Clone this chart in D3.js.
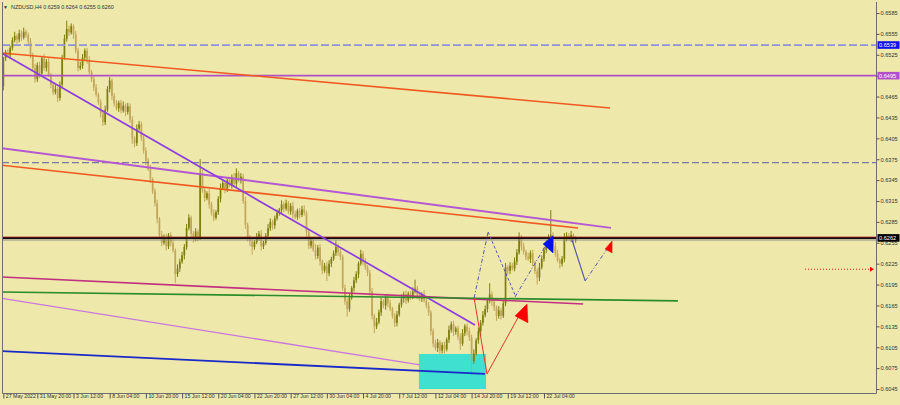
<!DOCTYPE html>
<html><head><meta charset="utf-8">
<script src="https://cdn.jsdelivr.net/npm/d3@7"></script>
<style>html,body{margin:0;padding:0;background:#eee8aa;}svg{display:block;}</style>
</head><body>
<svg id="c" width="900" height="405"></svg>
<script>
// ---------- DATA ----------
const symbolTitle = "NZDUSD,H4";
const lastOHLC = [0.6259, 0.6264, 0.6255, 0.6260];
const firstOpen = 0.6480;
const closes = [
0.6520,0.6528,0.6524,0.6535,0.6546,0.6552,0.6547,0.6556,0.6550,0.6558,
0.6553,0.6544,0.6525,0.6506,0.6490,0.6510,0.6498,0.6520,0.6506,0.6515,
0.6496,0.6482,0.6471,0.6476,0.6463,0.6482,0.6521,0.6548,0.6562,0.6557,
0.6566,0.6554,0.6531,0.6506,0.6509,0.6521,0.6531,0.6518,0.6500,0.6490,
0.6478,0.6468,0.6457,0.6441,0.6428,0.6446,0.6476,0.6488,0.6466,0.6455,
0.6448,0.6456,0.6445,0.6452,0.6443,0.6451,0.6432,0.6405,0.6398,0.6419,
0.6425,0.6406,0.6387,0.6373,0.6361,0.6346,0.6329,0.6312,0.6289,0.6266,
0.6255,0.6263,0.6250,0.6266,0.6255,0.6244,0.6210,0.6218,0.6228,0.6237,
0.6249,0.6276,0.6291,0.6268,0.6261,0.6271,0.6262,0.6355,0.6331,0.6319,
0.6326,0.6310,0.6298,0.6291,0.6299,0.6318,0.6334,0.6341,0.6332,0.6345,
0.6338,0.6349,0.6340,0.6355,0.6345,0.6350,0.6315,0.6281,0.6262,0.6257,
0.6249,0.6256,0.6263,0.6268,0.6250,0.6255,0.6265,0.6276,0.6285,0.6280,
0.6290,0.6298,0.6302,0.6310,0.6304,0.6312,0.6300,0.6308,0.6296,0.6292,
0.6301,0.6295,0.6303,0.6298,0.6270,0.6251,0.6258,0.6245,0.6236,0.6248,
0.6228,0.6215,0.6222,0.6211,0.6225,0.6232,0.6240,0.6249,0.6242,0.6235,
0.6190,0.6171,0.6160,0.6176,0.6190,0.6201,0.6210,0.6225,0.6239,0.6228,
0.6220,0.6212,0.6185,0.6150,0.6135,0.6141,0.6155,0.6171,0.6165,0.6176,
0.6168,0.6160,0.6150,0.6140,0.6152,0.6166,0.6175,0.6181,0.6172,0.6182,
0.6178,0.6185,0.6189,0.6180,0.6175,0.6181,0.6172,0.6165,0.6155,0.6128,
0.6110,0.6104,0.6112,0.6100,0.6108,0.6102,0.6116,0.6130,0.6138,0.6127,
0.6132,0.6120,0.6110,0.6125,0.6135,0.6128,0.6119,0.6085,0.6096,0.6115,
0.6128,0.6140,0.6151,0.6160,0.6172,0.6181,0.6170,0.6162,0.6150,0.6158,
0.6150,0.6168,0.6220,0.6215,0.6222,0.6218,0.6228,0.6241,0.6262,0.6250,
0.6242,0.6235,0.6232,0.6240,0.6226,0.6214,0.6205,0.6220,0.6232,0.6245,
0.6255,0.6262,0.6266,0.6250,0.6240,0.6230,0.6225,0.6232,0.6260,0.6265,
0.6262,0.6266,0.6259,0.6260];
// wick lengths in pips above max(open,close) and below min(open,close)
const wickHi = [
2,4,5,3,4,6,3,5,4,6,3,4,5,3,6,4,5,3,6,4,
5,3,4,6,3,5,4,6,12,5,4,3,5,4,6,5,3,4,5,3,
4,5,3,4,5,6,4,5,3,4,5,3,4,6,3,5,4,5,3,6,
5,4,3,5,4,6,3,4,5,3,6,4,5,3,4,5,3,6,4,5,
4,6,5,3,4,5,3,20,5,4,3,6,4,5,3,4,6,5,3,4,
5,4,6,7,3,5,4,6,3,4,5,3,6,4,5,3,4,6,5,3,
4,5,3,6,4,5,3,4,6,5,3,4,5,6,3,4,5,3,8,4,
5,3,4,6,5,3,4,9,5,4,3,5,4,6,3,5,4,3,6,4,
5,3,4,5,3,6,4,5,3,4,6,5,3,4,5,3,6,4,5,3,
4,6,13,4,5,3,6,4,5,3,4,6,5,3,4,5,3,6,4,5,
3,4,5,6,3,4,5,4,6,3,5,4,6,5,3,16,4,5,3,6,
4,5,6,3,5,4,6,5,8,4,5,3,6,4,5,3,4,6,5,3,
4,5,36,4,6,5,3,4,9,5,4,6,3,4];
const wickLo = [
6,4,3,5,4,3,6,4,5,3,4,6,5,3,5,4,6,3,4,5,
3,5,4,3,6,4,5,3,4,5,3,6,4,5,3,4,5,6,3,4,
5,3,4,6,5,4,3,5,6,4,3,5,4,3,6,4,5,8,6,4,
3,5,4,6,3,5,4,5,6,4,5,3,6,4,5,3,13,4,5,3,
6,4,3,5,6,4,5,3,4,5,3,6,4,5,3,4,5,3,6,4,
3,5,4,6,3,5,4,6,5,7,11,4,3,5,6,4,3,5,4,6,
5,3,4,6,5,3,4,5,6,3,4,5,3,4,6,5,4,3,5,4,
6,5,3,11,4,5,3,4,6,5,4,5,11,4,3,5,4,6,3,5,
4,5,6,5,10,4,3,5,4,6,5,3,4,6,5,3,4,6,5,3,
5,4,3,6,4,5,3,4,5,6,5,4,6,5,4,6,3,5,4,6,
4,5,9,3,4,6,5,21,4,3,5,6,4,3,5,4,6,5,7,4,
5,3,4,6,5,3,4,5,3,6,4,5,3,6,5,4,10,5,3,4,
5,3,4,6,5,3,7,4,5,3,4,6,5,4];

const timeLabels = ["27 May 2022","31 May 20:00","3 Jun 12:00","8 Jun 04:00","10 Jun 20:00","15 Jun 12:00","20 Jun 04:00","22 Jun 20:00","27 Jun 12:00","30 Jun 04:00","4 Jul 20:00","7 Jul 12:00","12 Jul 04:00","14 Jul 20:00","19 Jul 12:00","22 Jul 04:00"];
const timeLabelBars = [0,15,31,47,63,79,95,111,127,143,159,175,191,207,223,239];
const priceTicks = [0.6585,0.6555,0.6525,0.6495,0.6465,0.6435,0.6405,0.6375,0.6345,0.6315,0.6285,0.6255,0.6225,0.6195,0.6165,0.6135,0.6105,0.6075,0.6045];

// horizontal levels
const levelDashedTop = 0.6539;
const levelViolet = 0.6495;
const levelDashedMid = 0.6370;
const levelBlack = 0.6262;
const bidPrice = 0.6259;
// trend lines: [[bar, price],[bar, price]]
const orangeUpper = [[-0.6,0.65276],[268.2,0.64486]];
const orangeLower = [[-1.5,0.63667],[254.0,0.62763]];
const purpleChannel = [[-1.5,0.63911],[268.6,0.62763]];
const violetTrend = [[-1.5,0.65290],[208.5,0.61370]];
const crimsonLine = [[-1.5,0.62059],[256.3,0.61671]];
const greenLine = [[-1.5,0.61844],[298.2,0.61715]];
const orchidLine = [[-1.5,0.61757],[184.2,0.60795]];
const blueLine = [[-1.5,0.60996],[212.9,0.60666]];
const cyanZone = [[183.7,0.60953],[213.4,0.60450]];
const redPath = [[208.1,0.61757],[213.8,0.60666],[228.4,0.61528]];
const redArrowBig = [[226.2,0.61500],[231.5,0.61670],[231.9,0.61400]];
const blueArrow = [[238.6,0.62533],[243.0,0.62648],[243.0,0.62404]];
const redArrowSmall = [[266.0,0.62461],[269.1,0.62576],[269.1,0.62404]];
const forecastA = [[208.1,0.61757],[214.3,0.62705]];
const forecastB = [[214.3,0.62705],[226.2,0.61801]];
const forecastC = [[226.2,0.61772],[242.5,0.62662]];
const forecastD = [[251.4,0.62590],[257.2,0.62002]];
const forecastE = [[257.2,0.62002],[266.9,0.62461]];
const redDotted = [[354.4,0.62170],[384.9,0.62170]];

// ---------- DRAW ----------
const svg = d3.select("#c");
const L = 2, R = 876, T = 2, B = 393;
const x = d3.scaleLinear().domain([0, 387]).range([3.37, 3.37 + 387*2.262]);
const y = d3.scaleLinear().domain([0.6045, 0.6585]).range([389, 13]);

svg.append("rect").attr("width",900).attr("height",405).attr("fill","#eee8aa");
svg.append("defs").append("clipPath").attr("id","plot")
  .append("rect").attr("x",L).attr("y",T).attr("width",R-L).attr("height",B-T);
const g = svg.append("g").attr("clip-path","url(#plot)");

// cyan zone (background object)
g.append("rect")
  .attr("x", x(cyanZone[0][0])).attr("y", y(cyanZone[0][1]))
  .attr("width", x(cyanZone[1][0]) - x(cyanZone[0][0]))
  .attr("height", y(cyanZone[1][1]) - y(cyanZone[0][1]))
  .attr("fill","#40e0d0");

// candles
const candles = closes.map((c,i) => {
  const o = i ? closes[i-1] : firstOpen;
  return {i, o, c, h: Math.max(o,c) + wickHi[i]/1e4, l: Math.min(o,c) - wickLo[i]/1e4};
});
const bull = "#7e7e0e", bear = "#c2a65c";
const cg = g.append("g");
cg.selectAll("line").data(candles).join("line")
  .attr("x1", d => x(d.i)).attr("x2", d => x(d.i))
  .attr("y1", d => y(d.h)).attr("y2", d => y(d.l))
  .attr("stroke", d => d.c >= d.o ? bull : bear).attr("stroke-width", 1);
cg.selectAll("rect").data(candles).join("rect")
  .attr("x", d => x(d.i) - 0.85).attr("width", 1.7)
  .attr("y", d => y(Math.max(d.o,d.c)))
  .attr("height", d => Math.max(1, Math.abs(y(d.o) - y(d.c))))
  .attr("fill", d => d.c >= d.o ? bull : bear);

// horizontal levels
function hline(p, color, w, dash) {
  g.append("line").attr("x1",L).attr("x2",R).attr("y1",y(p)).attr("y2",y(p))
    .attr("stroke",color).attr("stroke-width",w).attr("stroke-dasharray",dash||null);
}
hline(levelDashedTop, "#9090dc", 1.8, "8,3");
hline(levelViolet, "#b050c8", 1.6);
hline(levelDashedMid, "#5c5ca4", 1, "7,3");
hline(bidPrice, "#8a8a8a", 1);
hline(levelBlack, "#111", 2);
g.append("line").attr("x1",L).attr("x2",R).attr("y1",y(levelBlack)-0.8).attr("y2",y(levelBlack)-0.8)
  .attr("stroke","#a01010").attr("stroke-width",0.8);

// trend lines
const lineGen = d3.line().x(d => x(d[0])).y(d => y(d[1]));
function seg(pts, color, w, dash) {
  g.append("path").attr("d", lineGen(pts)).attr("fill","none")
    .attr("stroke", color).attr("stroke-width", w).attr("stroke-dasharray", dash||null);
}
seg(orangeUpper, "#f05a22", 1.6);
seg(orangeLower, "#f05a22", 1.6);
seg(purpleChannel, "#b458d4", 1.8);
seg(violetTrend, "#8c3ee0", 1.7);
seg(crimsonLine, "#c0307e", 1.6);
seg(orchidLine, "#c878dc", 1.3);
seg(greenLine, "#2a8c2a", 1.6);
seg(blueLine, "#1a2ac8", 1.8);
seg(redPath, "#e03a2a", 1);
seg(forecastA, "#5858a8", 1, "4,2,1,2");
seg(forecastB, "#5858a8", 1, "3,2");
seg(forecastC, "#5858a8", 1, "4,2,1,2");
seg(forecastD, "#5858a8", 1.2);
seg(forecastE, "#5858a8", 1, "4,2,1,2");
seg(redDotted, "#e02020", 1, "1,2");

function tri(pts, color) {
  g.append("path").attr("d", lineGen(pts) + "Z").attr("fill", color).attr("stroke", color).attr("stroke-width",0.5);
}
tri(redArrowBig, "#ff0000");
tri(blueArrow, "#0010e8");
tri(redArrowSmall, "#ff0000");
const rdEnd = redDotted[1];
g.append("path").attr("d", `M${x(rdEnd[0])-4},${y(rdEnd[1])-2.5}L${x(rdEnd[0])},${y(rdEnd[1])}L${x(rdEnd[0])-4},${y(rdEnd[1])+2.5}Z`).attr("fill","#ff0000");

// frame
svg.append("path").attr("d", `M${L+0.5},${T}V${B+0.5}H${R+0.5}V${T}`).attr("fill","none").attr("stroke","#6e6e6e").attr("stroke-width",1);

const font = "'Liberation Sans', Arial, sans-serif";
// right axis
const ya = svg.append("g").attr("transform", `translate(${R+0.5},0)`)
  .call(d3.axisRight(y).tickValues(priceTicks).tickSize(3).tickPadding(1).tickFormat(d3.format(".4f")));
ya.select(".domain").remove();
ya.selectAll("line").attr("stroke","#555");
ya.selectAll("text").attr("font-family",font).attr("font-size",5.6).attr("fill","#333");

// bottom axis
const xa = svg.append("g").attr("transform", `translate(0,${B+0.5})`)
  .call(d3.axisBottom(x).tickValues(timeLabelBars).tickSize(5).tickFormat((d,i) => timeLabels[i]));
xa.select(".domain").remove();
xa.selectAll("line").attr("stroke","#555");
xa.selectAll("text").attr("font-family",font).attr("font-size",5.2).attr("fill","#333")
  .attr("text-anchor","start").attr("dx",2).attr("dy",0).attr("y",4);

// price label boxes
function tag(p, bg, fg) {
  const yy = y(p);
  svg.append("rect").attr("x",R+1.5).attr("y",yy-3.8).attr("width",22).attr("height",7.6).attr("fill",bg);
  svg.append("text").attr("x",R+3).attr("y",yy+2.1).attr("font-family",font).attr("font-size",5.6)
    .attr("fill",fg).text(d3.format(".4f")(p));
}
tag(levelDashedTop, "#1010f0", "#fff");
tag(levelViolet, "#b050c8", "#fff");
tag(levelBlack, "#000", "#fff");

// title
svg.append("text").attr("x",3).attr("y",8.6).attr("font-family",font).attr("font-size",5).attr("fill","#333").text("▼");
svg.append("text").attr("x",11).attr("y",8.6).attr("font-family",font).attr("font-size",5.4).attr("fill","#333")
  .text(symbolTitle + "  " + lastOHLC.map(d3.format(".4f")).join(" "));
</script>
</body></html>
